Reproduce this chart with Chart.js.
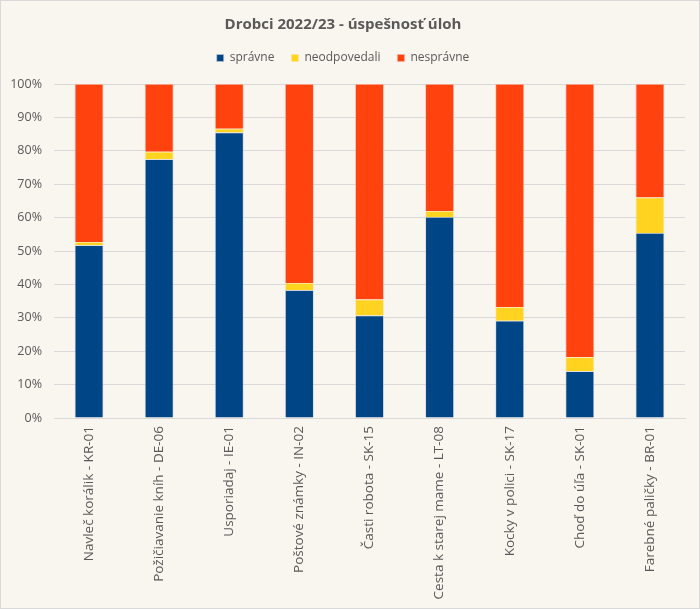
<!DOCTYPE html>
<html>
<head>
<meta charset="utf-8">
<script src="https://cdn.jsdelivr.net/npm/chart.js@4/dist/chart.umd.min.js"></script>
<style>
html,body{margin:0;padding:0;background:#f9f5ef;}
#wrap{position:absolute;left:0;top:0;width:698px;height:607px;border:1px solid #d9d9d9;background:#f9f5ef;}
canvas{display:block;}
</style>
</head>
<body>
<div id="wrap"><canvas id="c" width="698" height="607"></canvas></div>
<script>
const categories = ["Navleč korálik - KR-01","Požičiavanie kníh - DE-06","Usporiadaj - IE-01","Poštové známky - IN-02","Časti robota - SK-15","Cesta k starej mame - LT-08","Kocky v polici - SK-17","Choď do úľa - SK-01","Farebné paličky - BR-01"];
const spravne = [51.7, 77.5, 85.5, 38.3, 30.7, 60.2, 29.1, 14.0, 55.4];
const neodpovedali = [1.0, 2.2, 1.1, 2.1, 4.8, 1.8, 4.1, 4.2, 10.6];
const nespravne = [47.3, 20.3, 13.4, 59.6, 64.5, 38.0, 66.8, 81.8, 34.0];
const yTicks = [0,10,20,30,40,50,60,70,80,90,100];

const FONT = "'Open Sans', 'Noto Sans', sans-serif";
Chart.defaults.font.family = FONT;
Chart.defaults.color = '#595959';

const legendPad = {
  id:'legendPad',
  beforeLayout(chart){
    const lg = chart.legend;
    if (lg && !lg._patched){
      const f = lg.fit;
      lg.fit = function(){ f.call(this); this.height += 10; };
      lg._patched = true;
    }
  }
};

new Chart(document.getElementById('c'), {
  type: 'bar',
  data: {
    labels: categories,
    datasets: [
      {label:'správne', data: spravne, backgroundColor:'#004586', borderColor:'rgba(190,200,215,0.8)', borderWidth:0.8},
      {label:'neodpovedali', data: neodpovedali, backgroundColor:'#ffd320', borderColor:'rgba(255,230,150,0.8)', borderWidth:0.8},
      {label:'nesprávne', data: nespravne, backgroundColor:'#ff420e', borderColor:'rgba(255,170,150,0.8)', borderWidth:0.8}
    ]
  },
  options: {
    responsive:false,
    animation:false,
    devicePixelRatio:1,
    layout:{padding:{left:0,right:14,top:8,bottom:0}},
    datasets:{bar:{categoryPercentage:1.0, barPercentage:0.41}},
    plugins:{
      title:{display:true, text:'Drobci 2022/23 - úspešnosť úloh', color:'#595959', font:{size:15, weight:'bold', family:FONT}, padding:{top:7,bottom:1}},
      legend:{position:'top', labels:{boxWidth:7, boxHeight:7, color:'#595959', font:{size:12}, padding:17, useBorderRadius:false}},
      tooltip:{enabled:false}
    },
    scales:{
      x:{stacked:true,
         grid:{display:false, drawTicks:false},
         border:{color:'#d9d9d9', width:1},
         ticks:{minRotation:90, maxRotation:90, color:'#595959', font:{size:13.5}, padding:8, autoSkip:false},
         afterFit(s){ s.height = 190; }
      },
      y:{stacked:true, min:0, max:100,
         afterBuildTicks(s){ s.ticks = yTicks.map(v=>({value:v})); },
         grid:{color:'#d9d9d9', drawTicks:false},
         border:{display:false},
         ticks:{callback:v=>v+'%', color:'#595959', font:{size:12.5}, padding:12},
         afterFit(s){ s.width = 53; }
      }
    }
  },
  plugins:[legendPad]
});
</script>
</body>
</html>
